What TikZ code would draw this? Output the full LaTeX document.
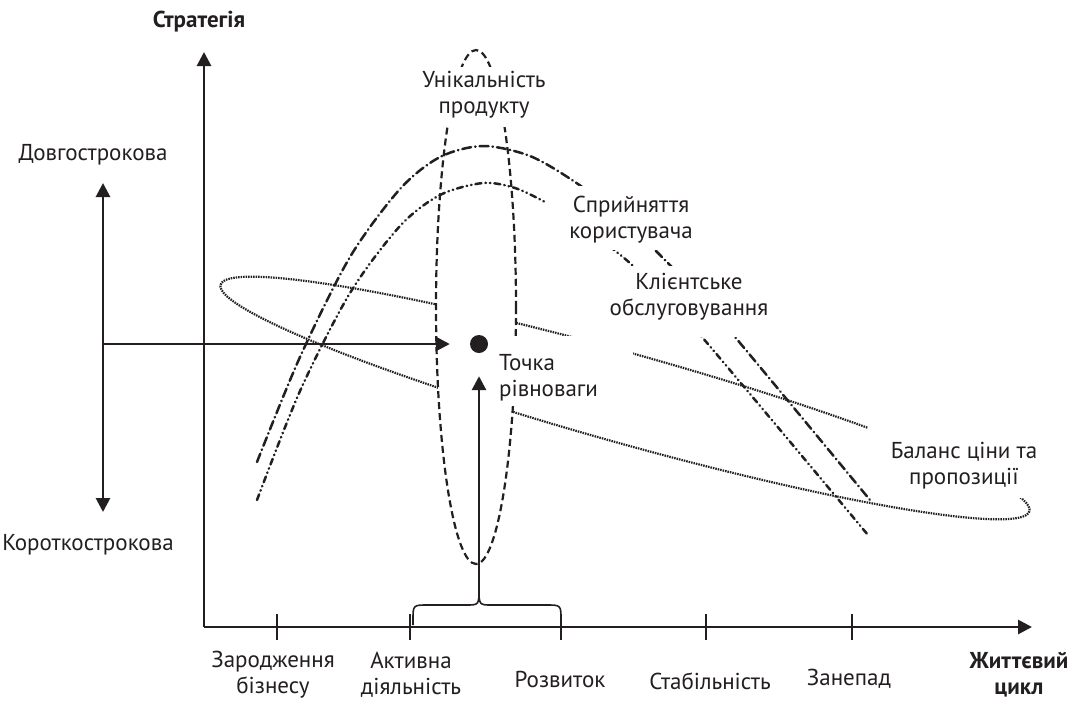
\documentclass[tikz,border=0pt]{standalone}
\usepackage{fontspec}
\setmainfont{PT Sans}
\usetikzlibrary{arrows.meta}
\definecolor{ink}{RGB}{35,31,32}
\newcommand\lblfont{\fontsize{23}{26}\selectfont}
\begin{document}
\begin{tikzpicture}[x=1pt,y=-1pt,
  every path/.style={color=ink},
  axisline/.style={line width=2.8pt,-{Triangle[length=14pt,width=14pt]}},
  dbl/.style={line width=2.8pt,{Triangle[length=14pt,width=14pt]}-{Triangle[length=14pt,width=14pt]}},
  tickline/.style={line width=1.6pt},
  bracel/.style={line width=1.6pt,line join=round},
  lbl/.style={font=\lblfont,align=center,inner sep=0pt,text=ink},
  blbl/.style={font=\lblfont\bfseries,align=center,inner sep=0pt,text=ink},
  mask/.style={fill=white,draw=none},
  uniq/.style={line width=2.2pt,dash pattern=on 7pt off 4pt},
  balance/.style={line width=2.2pt,dash pattern=on 1.5pt off 1pt},
  percep/.style={line width=2.5pt,line cap=round,dash pattern=on 9pt off 4pt on 0.5pt off 4pt},
  serv/.style={line width=2.5pt,line cap=round,dash pattern=on 6pt off 4pt on 0.5pt off 4pt on 0.5pt off 4pt}
]
\useasboundingbox (0,0) rectangle (1076,702);

% price/proposition balance (dotted ellipse)
\draw[balance,rotate around={-15.65:(625,398)}] (625,398) ellipse [x radius=420,y radius=45];
% product uniqueness (dashed ellipse)
\draw[uniq,fill=white] (476,307) ellipse [x radius=40,y radius=257];

% user perception / customer service curves
\draw[percep] plot[smooth] coordinates {(257,462) (300,357) (350,257) (400,189) (440,157) (483,146) (530,156) (575,182) (620,216) (653,248) (690,286) (735,337) (870,500)};
\draw[serv] plot[smooth] coordinates {(257,500) (300,391) (350,293) (400,226) (440,195) (483,183) (515,188) (545,202) (580,222) (613,249) (632,265) (665,298) (702,337) (868,535)};

% white backgrounds of labels
\fill[mask] (420,67) rectangle (548,127);
\fill[mask] (545,186) rectangle (717,250);
\fill[mask] (600,266) rectangle (778,337);
\fill[mask] (495,336) rectangle (633,406);
\fill[mask] (868,420) rectangle (1050,498);

% axes
\coordinate (O) at (204,627);
\coordinate (ytip) at (204,52);
\coordinate (xtip) at (1032,627);
\draw[axisline] (O) -- (ytip);
\draw[axisline] (O) -- (xtip);
\foreach \t/\x in {t1/277,t2/410,t3/561,t4/706,t5/852}{
  \coordinate (\t a) at (\x,614);
  \coordinate (\t b) at (\x,640);
  \draw[tickline] (\t a) -- (\t b);
}

% brace
\coordinate (bl) at (413,625);
\coordinate (br) at (561,625);
\coordinate (bt) at (479,588);
\draw[bracel] (bl) -- (413,620) .. controls (413,605) .. (428,605) -- (466,605) .. controls (479,605) .. (bt)
  .. controls (479,605) .. (492,605) -- (546,605) .. controls (561,605) .. (561,620) -- (br);

% equilibrium point
\node[circle,fill=ink,minimum size=18pt,inner sep=0pt] (dot) at (479,344) {};
\coordinate (lv) at (103,344);
\draw[axisline,shorten >=20pt] (lv) -- (dot);
\draw[axisline,shorten >=23pt] (bt) -- (dot);

% long/short double arrow
\coordinate (dtop) at (103,183);
\coordinate (dbot) at (103,512);
\draw[dbl] (dtop) -- (dbot);

% labels
\node[blbl] (strat) at (199,22) {Стратегія};
\node[lbl] (long) at (93,155) {Довгострокова};
\node[lbl] (short) at (88,545) {Короткострокова};
\node[lbl] (uniql) at (484,95) {Унікальність\\продукту};
\node[lbl] (percl) at (631,220) {Сприйняття\\користувача};
\node[lbl] (servl) at (689,297) {Клієнтське\\обслуговування};
\node[lbl,align=left,anchor=west] (eql) at (499,378) {Точка\\рівноваги};
\node[lbl] (ball) at (964,466) {Баланс ціни та\\пропозиції};
\node[lbl] (s1) at (273,675) {Зародження\\бізнесу};
\node[lbl] (s2) at (411,675) {Активна\\діяльність};
\node[lbl] (s3) at (560,679) {Розвиток};
\node[lbl] (s4) at (710,681) {Стабільність};
\node[lbl] (s5) at (849,679) {Занепад};
\node[blbl] (life) at (1019,675) {Життєвий\\цикл};
\end{tikzpicture}
\end{document}
